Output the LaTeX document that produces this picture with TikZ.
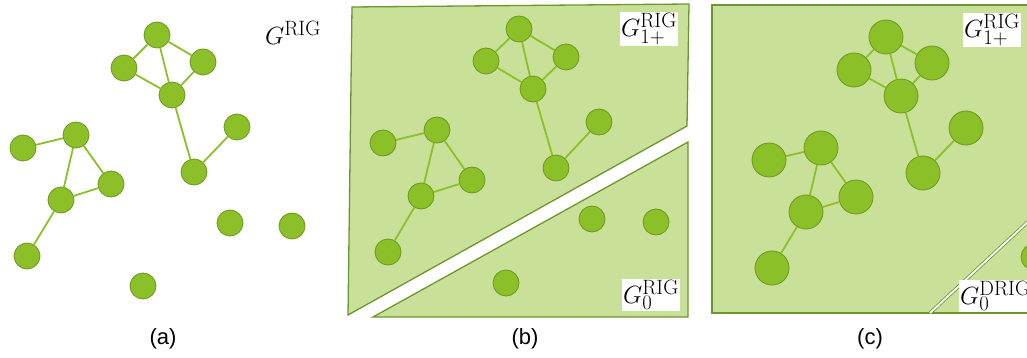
\documentclass[tikz,border=0pt]{standalone}
\usepackage{fontspec}
\newfontfamily\capfont{Liberation Sans}
\usetikzlibrary{positioning}
\definecolor{vgreen}{RGB}{140,192,40}
\definecolor{vborder}{RGB}{108,152,30}
\definecolor{rgfill}{RGB}{201,224,152}
\definecolor{rgborder}{RGB}{110,150,48}
\tikzset{
  vnode/.style={circle, draw=vborder, fill=vgreen, line width=0.8pt, minimum size=26pt, inner sep=0pt},
  vbig/.style={vnode, minimum size=34pt},
  link/.style={draw=vgreen, line width=1.8pt},
  region/.style={draw=rgborder, fill=rgfill, line width=1.3pt},
  glabel/.style={font=\Huge, inner sep=1pt},
  gbox/.style={glabel, fill=white},
  caption/.style={font=\capfont\fontsize{22}{26}\selectfont},
}

\begin{document}
\begin{tikzpicture}[x=1pt, y=-1pt]
    \useasboundingbox (0,0) rectangle (1027,358);
    \clip (0,0) rectangle (1027,358);

    % (a) the plain graph
    \node[vnode] (atop) at (157,35) {};
    \node[vnode] (aleft) at (124,68) {};
    \node[vnode] (aright) at (203,62) {};
    \node[vnode] (amid) at (172,95) {};
    \node[vnode] (alow) at (194,172) {};
    \node[vnode] (aside) at (237,127) {};
    \node[vnode] (ttop) at (76,135) {};
    \node[vnode] (tfar) at (23,148) {};
    \node[vnode] (tright) at (111,184) {};
    \node[vnode] (tleft) at (61,200) {};
    \node[vnode] (tbot) at (27,256) {};
    \node[vnode] (aiso1) at (230,223) {};
    \node[vnode] (aiso2) at (292,226) {};
    \node[vnode] (aiso3) at (143,286) {};
    \draw[link] (atop) -- (aleft) (atop) -- (amid) (atop) -- (aright)
                (aleft) -- (amid) (aright) -- (amid) (amid) -- (alow) (alow) -- (aside);
    \draw[link] (tfar) -- (ttop) (ttop) -- (tleft) (ttop) -- (tright)
                (tleft) -- (tright) (tleft) -- (tbot);
    \node[glabel] (ga) at (293,33) {$G^{\mathrm{RIG}}$};
    \node[caption] (capa) at (163,339) {(a)};

    % (b) split into two parts
    \draw[region] (352,7) -- (689,4) -- (687,126) -- (348,315) -- cycle;
    \draw[region] (688,142) -- (688,317) -- (373,317) -- cycle;
    \node[vnode] (btop) at (519,29) {};
    \node[vnode] (bleft) at (486,61) {};
    \node[vnode] (bright) at (566,57) {};
    \node[vnode] (bmid) at (533,89) {};
    \node[vnode] (blow) at (556,168) {};
    \node[vnode] (bside) at (599,122) {};
    \node[vnode] (uttop) at (437,130) {};
    \node[vnode] (utfar) at (383,143) {};
    \node[vnode] (utright) at (472,180) {};
    \node[vnode] (utleft) at (421,196) {};
    \node[vnode] (utbot) at (388,252) {};
    \node[vnode] (biso1) at (592,219) {};
    \node[vnode] (biso2) at (656,222) {};
    \node[vnode] (biso3) at (506,283) {};
    \draw[link] (btop) -- (bleft) (btop) -- (bmid) (btop) -- (bright)
                (bleft) -- (bmid) (bright) -- (bmid) (bmid) -- (blow) (blow) -- (bside);
    \draw[link] (utfar) -- (uttop) (uttop) -- (utleft) (uttop) -- (utright)
                (utleft) -- (utright) (utleft) -- (utbot);
    \node[gbox] (gb1) at (649,29) {$G^{\mathrm{RIG}}_{1+}$};
    \node[gbox] (gb0) at (651,295) {$G^{\mathrm{RIG}}_{0}$};
    \node[caption] (capb) at (525,339) {(b)};

    % (c) bigger vertices, thin cut
    \draw[region] (712,5) rectangle (1040,313);
    \coordinate (cutlow) at (930,313);
    \coordinate (cuthigh) at (1062,190);
    \draw[draw=rgborder, double=white, double distance=1.8pt, line width=0.8pt] (cutlow) -- (cuthigh);
    \node[vbig] (ctop) at (886,37) {};
    \node[vbig] (cleft) at (854,70) {};
    \node[vbig] (cright) at (932,63) {};
    \node[vbig] (cmid) at (901,96) {};
    \node[vbig] (clow) at (923,173) {};
    \node[vbig] (cside) at (966,128) {};
    \node[vbig] (vttop) at (821,148) {};
    \node[vbig] (vtfar) at (769,160) {};
    \node[vbig] (vtright) at (856,197) {};
    \node[vbig] (vtleft) at (806,212) {};
    \node[vbig] (vtbot) at (772,268) {};
    \node[vnode] (ciso) at (1034,257) {};
    \draw[link] (ctop) -- (cleft) (ctop) -- (cmid) (ctop) -- (cright)
                (cleft) -- (cmid) (cright) -- (cmid) (cmid) -- (clow) (clow) -- (cside);
    \draw[link] (vtfar) -- (vttop) (vttop) -- (vtleft) (vttop) -- (vtright)
                (vtleft) -- (vtright) (vtleft) -- (vtbot);
    \node[gbox, anchor=west] (gc1) at (963,30) {$G^{\mathrm{RIG}}_{1+}$};
    \node[gbox, anchor=west] (gc0) at (959,296) {$G^{\mathrm{DRIG}}_{0}$};
    \node[caption] (capc) at (870,339) {(c)};
\end{tikzpicture}
\end{document}
